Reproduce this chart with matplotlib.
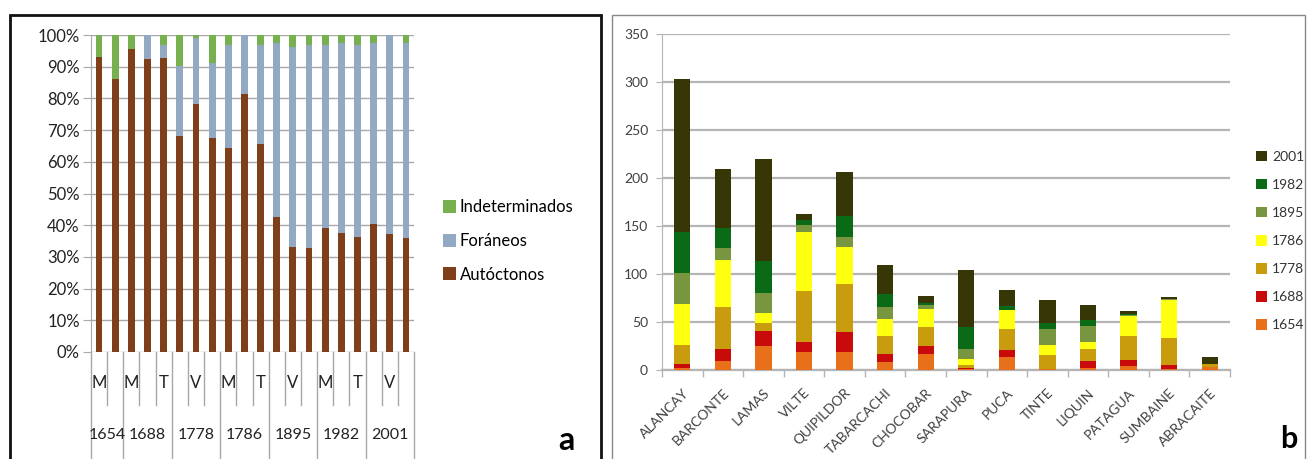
import matplotlib.pyplot as plt
from matplotlib.patches import Rectangle
from matplotlib.transforms import blended_transform_factory

plt.rcParams['font.family'] = ['Lato', 'DejaVu Sans']

# ---- panel a: percentages per sample ----
years_a = ['1654', '1688', '1778', '1786', '1895', '1982', '2001']
inner_a = [['M', 'V'], ['M', 'V', 'T'], ['M', 'V', 'T'], ['M', 'V', 'T'],
           ['M', 'V', 'T'], ['M', 'V', 'T'], ['M', 'V', 'T']]
autoctonos = [93.2, 86.1, 95.5, 92.4, 92.8, 68.2, 78.1, 67.6, 64.2, 81.4,
              65.5, 42.6, 33.2, 32.8, 39.2, 37.4, 36.3, 40.3, 37.1, 36.0]
foraneos = [0.0, 0.0, 0.0, 7.6, 4.0, 22.1, 20.9, 23.5, 32.6, 18.6,
            31.4, 54.8, 63.1, 64.0, 57.6, 60.0, 60.5, 57.1, 62.9, 61.4]
indeterminados = [6.8, 13.9, 4.5, 0.0, 3.2, 9.7, 1.0, 8.9, 3.2, 0.0,
                  3.1, 2.6, 3.7, 3.2, 3.2, 2.6, 3.2, 2.6, 0.0, 2.6]

# ---- panel b: counts per locality and year ----
localidades = ['ALANCAY', 'BARCONTE', 'LAMAS', 'VILTE', 'QUIPILDOR', 'TABARCACHI',
               'CHOCOBAR', 'SARAPURA', 'PUCA', 'TINTE', 'LIQUIN', 'PATAGUA',
               'SUMBAINE', 'ABRACAITE']
years_b = ['1654', '1688', '1778', '1786', '1895', '1982', '2001']
s1654 = [2, 9, 25, 19, 19, 8, 16.5, 1.5, 14, 1, 2.5, 4.5, 1, 3.5]
s1688 = [4, 12.5, 15.5, 10.5, 21, 9, 8.5, 0.5, 7, 0, 7, 6, 4, 0]
s1778 = [20, 44, 8, 52.5, 50, 18.5, 19.5, 3.5, 21.5, 15, 12, 25, 28.5, 2.5]
s1786 = [43, 49, 11, 61.5, 38.5, 18, 19.5, 6, 19.5, 10, 8, 20.5, 39.5, 0]
s1895 = [32, 13, 21, 7.5, 10.5, 12, 4, 10.5, 0.5, 16.5, 16.5, 1, 0.5, 0]
s1982 = [43, 20, 33, 5, 21, 14, 2, 22.5, 4, 6, 6, 1, 0.5, 0]
s2001 = [159, 62, 106, 7, 46, 30, 7, 60, 17, 24, 16, 3, 2, 8]
series_b = [s1654, s1688, s1778, s1786, s1895, s1982, s2001]
colors_b = ['#E8701A', '#C80A0A', '#C99C0E', '#FFFF10', '#789540', '#0A6A16', '#363606']

fig = plt.figure(figsize=(13.08, 4.59), dpi=100)
W, H = 1308, 459


def fx(px):
    return px / W


def fy(py):
    return 1 - py / H


# panel frames
fig.patches.append(Rectangle((fx(10), fy(475)), fx(591), (475 - 15) / H, fill=False,
                             edgecolor='#111111', lw=2, transform=fig.transFigure, clip_on=False))
fig.patches.append(Rectangle((fx(612), fy(475)), fx(693), (475 - 15) / H, fill=False,
                             edgecolor='#888888', lw=1, transform=fig.transFigure, clip_on=False))

# ================= panel a =================
ax = fig.add_axes([fx(91), fy(352), fx(414 - 91), (352 - 35) / H])
n = len(autoctonos)
x = list(range(n))
ax.bar(x, autoctonos, width=0.42, color='#7F3F1A', label='Autóctonos', zorder=3)
ax.bar(x, foraneos, width=0.42, bottom=autoctonos, color='#93A9C3', label='Foráneos', zorder=3)
bot2 = [a + f for a, f in zip(autoctonos, foraneos)]
ax.bar(x, indeterminados, width=0.42, bottom=bot2, color='#76B04F', label='Indeterminados', zorder=3)

ax.set_xlim(-0.5, n - 0.5)
ax.set_ylim(0, 100)
ax.set_yticks(range(0, 101, 10))
ax.set_yticklabels([f'{v}%' for v in range(0, 101, 10)], fontsize=12, color='#222222')
ax.yaxis.grid(True, color='#a8a8a8', lw=1)
ax.set_axisbelow(True)
ax.tick_params(axis='y', length=6, color='#a8a8a8', pad=2)
ax.set_xticks([])
for s in ['top', 'right', 'bottom']:
    ax.spines[s].set_visible(False)
ax.spines['left'].set_color('#a8a8a8')

# two-level category axis drawn under the bars
tr = blended_transform_factory(ax.transData, ax.transAxes)
i = 0
bounds = [-0.5]
for yr, inner in zip(years_a, inner_a):
    start = i
    for lab in inner:
        if i % 2 == 0:
            ax.text(i, -0.098, lab, transform=tr, ha='center', va='center', fontsize=12, color='#222222')
        if lab != inner[-1]:
            ax.plot([i + 0.5, i + 0.5], [0, -0.167], transform=tr, color='#a8a8a8', lw=1, clip_on=False)
        i += 1
    ax.text((start + i - 1) / 2, -0.262, yr, transform=tr, ha='center', va='center',
            fontsize=11.5, color='#222222')
    bounds.append(i - 0.5)
for b in bounds:
    ax.plot([b, b], [0, -0.4], transform=tr, color='#a8a8a8', lw=1, clip_on=False)

h, l = ax.get_legend_handles_labels()
fig.legend(h[::-1], l[::-1], loc='center left', bbox_to_anchor=(fx(443), fy(241)),
           frameon=False, fontsize=12, handlelength=0.8, handleheight=0.8,
           handletextpad=0.2, labelspacing=1.05, borderpad=0, borderaxespad=0)
fig.text(fx(558), fy(441), 'a', fontsize=23, fontweight='bold', va='center', ha='left')

# ================= panel b =================
bx = fig.add_axes([fx(662), fy(370), fx(1230 - 662), (370 - 34) / H])
xb = list(range(len(localidades)))
bottom = [0] * len(localidades)
for yr, vals, c in zip(years_b, series_b, colors_b):
    bx.bar(xb, vals, width=0.4, bottom=bottom, color=c, label=yr, zorder=3)
    bottom = [b + v for b, v in zip(bottom, vals)]

bx.set_xlim(-0.5, len(localidades) - 0.5)
bx.set_ylim(0, 350)
bx.set_yticks(range(0, 351, 50))
bx.yaxis.grid(True, color='#b4b4b4', lw=1.6)
bx.set_axisbelow(True)
bx.tick_params(axis='y', labelsize=10, colors='#404040', length=4, pad=6)
bx.tick_params(axis='y', color='#b4b4b4')
bx.set_xticks(xb)
bx.set_xticklabels(localidades, rotation=45, ha='right', rotation_mode='anchor',
                   fontsize=10, color='#404040')
bx.tick_params(axis='x', which='major', length=0, pad=12)
bx.set_xticks([k - 0.5 for k in range(len(localidades) + 1)], minor=True)
bx.tick_params(axis='x', which='minor', length=5, color='#b4b4b4', width=1)
for s in ['top', 'right']:
    bx.spines[s].set_visible(False)
bx.spines['left'].set_color('#b4b4b4')
bx.spines['bottom'].set_color('#b4b4b4')
bx.spines['bottom'].set_linewidth(1.6)

h, l = bx.get_legend_handles_labels()
fig.legend(h[::-1], l[::-1], loc='center left', bbox_to_anchor=(fx(1256), fy(241)),
           frameon=False, fontsize=10, handlelength=0.8, handleheight=0.8,
           handletextpad=0.35, labelspacing=1.15, borderpad=0, borderaxespad=0,
           labelcolor='#333333')
fig.text(fx(1280), fy(439), 'b', fontsize=22, fontweight='bold', va='center', ha='left')

fig.savefig('out.png', dpi=100)
